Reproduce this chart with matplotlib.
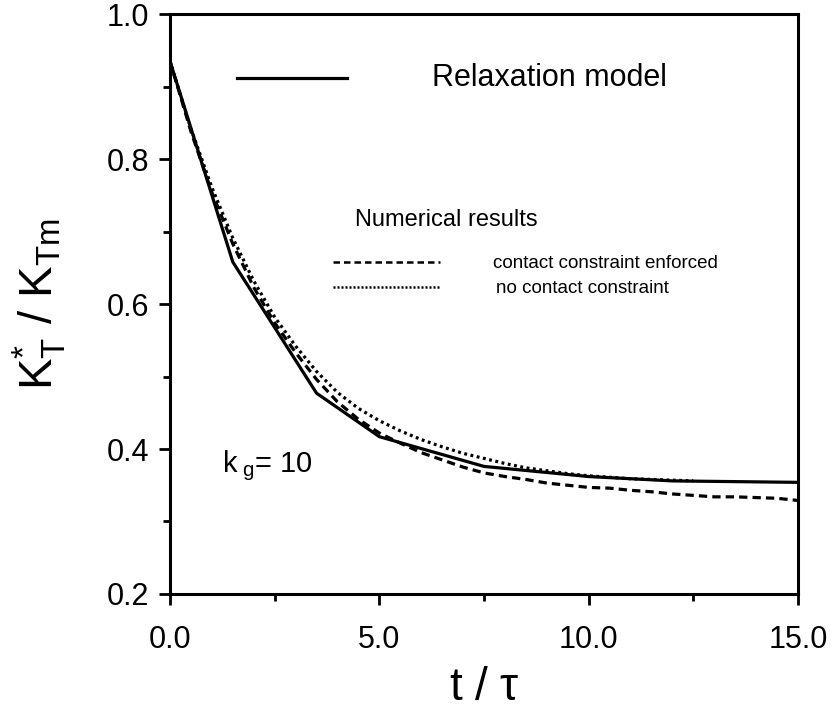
import numpy as np
import matplotlib
matplotlib.use('Agg')
import matplotlib.pyplot as plt
from matplotlib.ticker import MultipleLocator, FormatStrFormatter

# relaxation model (solid)
t_model = [0.0, 1.5, 3.5, 5.0, 7.5, 10.0, 12.0, 15.0]
k_model = [0.935, 0.658, 0.477, 0.417, 0.376, 0.362, 0.356, 0.354]

# numerical results, contact constraint enforced (dashed)
t_contact = [0.0, 0.5, 1.0, 1.5, 2.0, 2.5, 3.0, 3.5, 4.0, 4.5, 5.0, 5.5, 6.0, 6.5,
             7.0, 7.5, 8.0, 8.5, 9.0, 9.5, 10.0, 10.5, 11.0, 11.5, 12.0, 12.5,
             13.0, 13.5, 14.0, 14.5, 15.0]
k_contact = [0.935, 0.838, 0.754, 0.683, 0.623, 0.574, 0.533, 0.496, 0.465, 0.441,
             0.422, 0.408, 0.395, 0.385, 0.375, 0.367, 0.362, 0.358, 0.353, 0.350,
             0.347, 0.346, 0.343, 0.341, 0.338, 0.336, 0.334, 0.334, 0.333, 0.332,
             0.329]

# numerical results, no contact constraint (dotted)
t_free = [0.0, 0.5, 1.0, 1.5, 2.0, 2.5, 3.0, 3.5, 4.0, 4.5, 5.0, 5.5, 6.0, 6.5,
          7.0, 7.5, 8.0, 8.5, 9.0, 9.5, 10.0, 10.5, 11.0, 11.5, 12.0, 12.5]
k_free = [0.935, 0.842, 0.761, 0.691, 0.632, 0.582, 0.542, 0.507, 0.478, 0.456,
          0.439, 0.425, 0.413, 0.403, 0.394, 0.387, 0.380, 0.374, 0.370, 0.366,
          0.363, 0.361, 0.359, 0.358, 0.357, 0.356]

plt.rcParams['font.family'] = ['Liberation Sans', 'DejaVu Sans']
plt.rcParams['mathtext.fontset'] = 'custom'
plt.rcParams['mathtext.rm'] = 'Liberation Sans'
plt.rcParams['mathtext.it'] = 'Liberation Sans'
plt.rcParams['mathtext.default'] = 'regular'

fig = plt.figure(figsize=(8.34, 7.16), dpi=100)
ax = fig.add_axes([0.2038, 0.1704, 0.7532, 0.81])

lw = 2.3
ax.plot(t_model, k_model, color='black', lw=lw, solid_joinstyle='round')
ax.plot(t_contact, k_contact, color='black', lw=lw, linestyle=(0, (2.6, 1.6)))
ax.plot(t_free, k_free, color='black', lw=lw, linestyle=(0, (0.9, 1.1)))

ax.set_xlim(0, 15)
ax.set_ylim(0.2, 1.0)
ax.xaxis.set_major_locator(MultipleLocator(5))
ax.xaxis.set_minor_locator(MultipleLocator(2.5))
ax.yaxis.set_major_locator(MultipleLocator(0.2))
ax.yaxis.set_minor_locator(MultipleLocator(0.1))
ax.xaxis.set_major_formatter(FormatStrFormatter('%.1f'))
ax.yaxis.set_major_formatter(FormatStrFormatter('%.1f'))

for s in ax.spines.values():
    s.set_linewidth(2.2)
ax.tick_params(which='both', direction='out', width=2.0, top=False, right=False)
ax.tick_params(which='major', length=8, labelsize=22)
ax.tick_params(axis='x', which='major', pad=14)
ax.tick_params(axis='y', which='major', pad=7)
ax.tick_params(which='minor', length=5)

ax.set_xlabel(r'$t\ /\ \tau$', fontsize=33, labelpad=8)
ax.set_ylabel(r'$K^{*}_{T}\ /\ K_{Tm}$', fontsize=34, labelpad=28)

# key
ax.plot([0.1067, 0.282], [0.8897, 0.8897], transform=ax.transAxes,
        color='black', lw=lw)
ax.text(0.417, 0.8897, 'Relaxation model', transform=ax.transAxes,
        fontsize=22, va='center', ha='left')
ax.text(0.2946, 0.645, 'Numerical results', transform=ax.transAxes,
        fontsize=17, va='center', ha='left')
ax.plot([0.2596, 0.43], [0.5724, 0.5724], transform=ax.transAxes,
        color='black', lw=1.8, linestyle=(0, (2.6, 1.6)))
ax.plot([0.2596, 0.43], [0.529, 0.529], transform=ax.transAxes,
        color='black', lw=1.8, linestyle=(0, (0.8, 0.8)))
ax.text(0.514, 0.569, 'contact constraint enforced', transform=ax.transAxes,
        fontsize=13.5, va='center', ha='left')
ax.text(0.519, 0.526, 'no contact constraint', transform=ax.transAxes,
        fontsize=13.5, va='center', ha='left')

ax.text(0.083, 0.222, r'$k_{\ g}$= 10', transform=ax.transAxes,
        fontsize=21, va='center', ha='left')

fig.savefig('out.png', dpi=100)
